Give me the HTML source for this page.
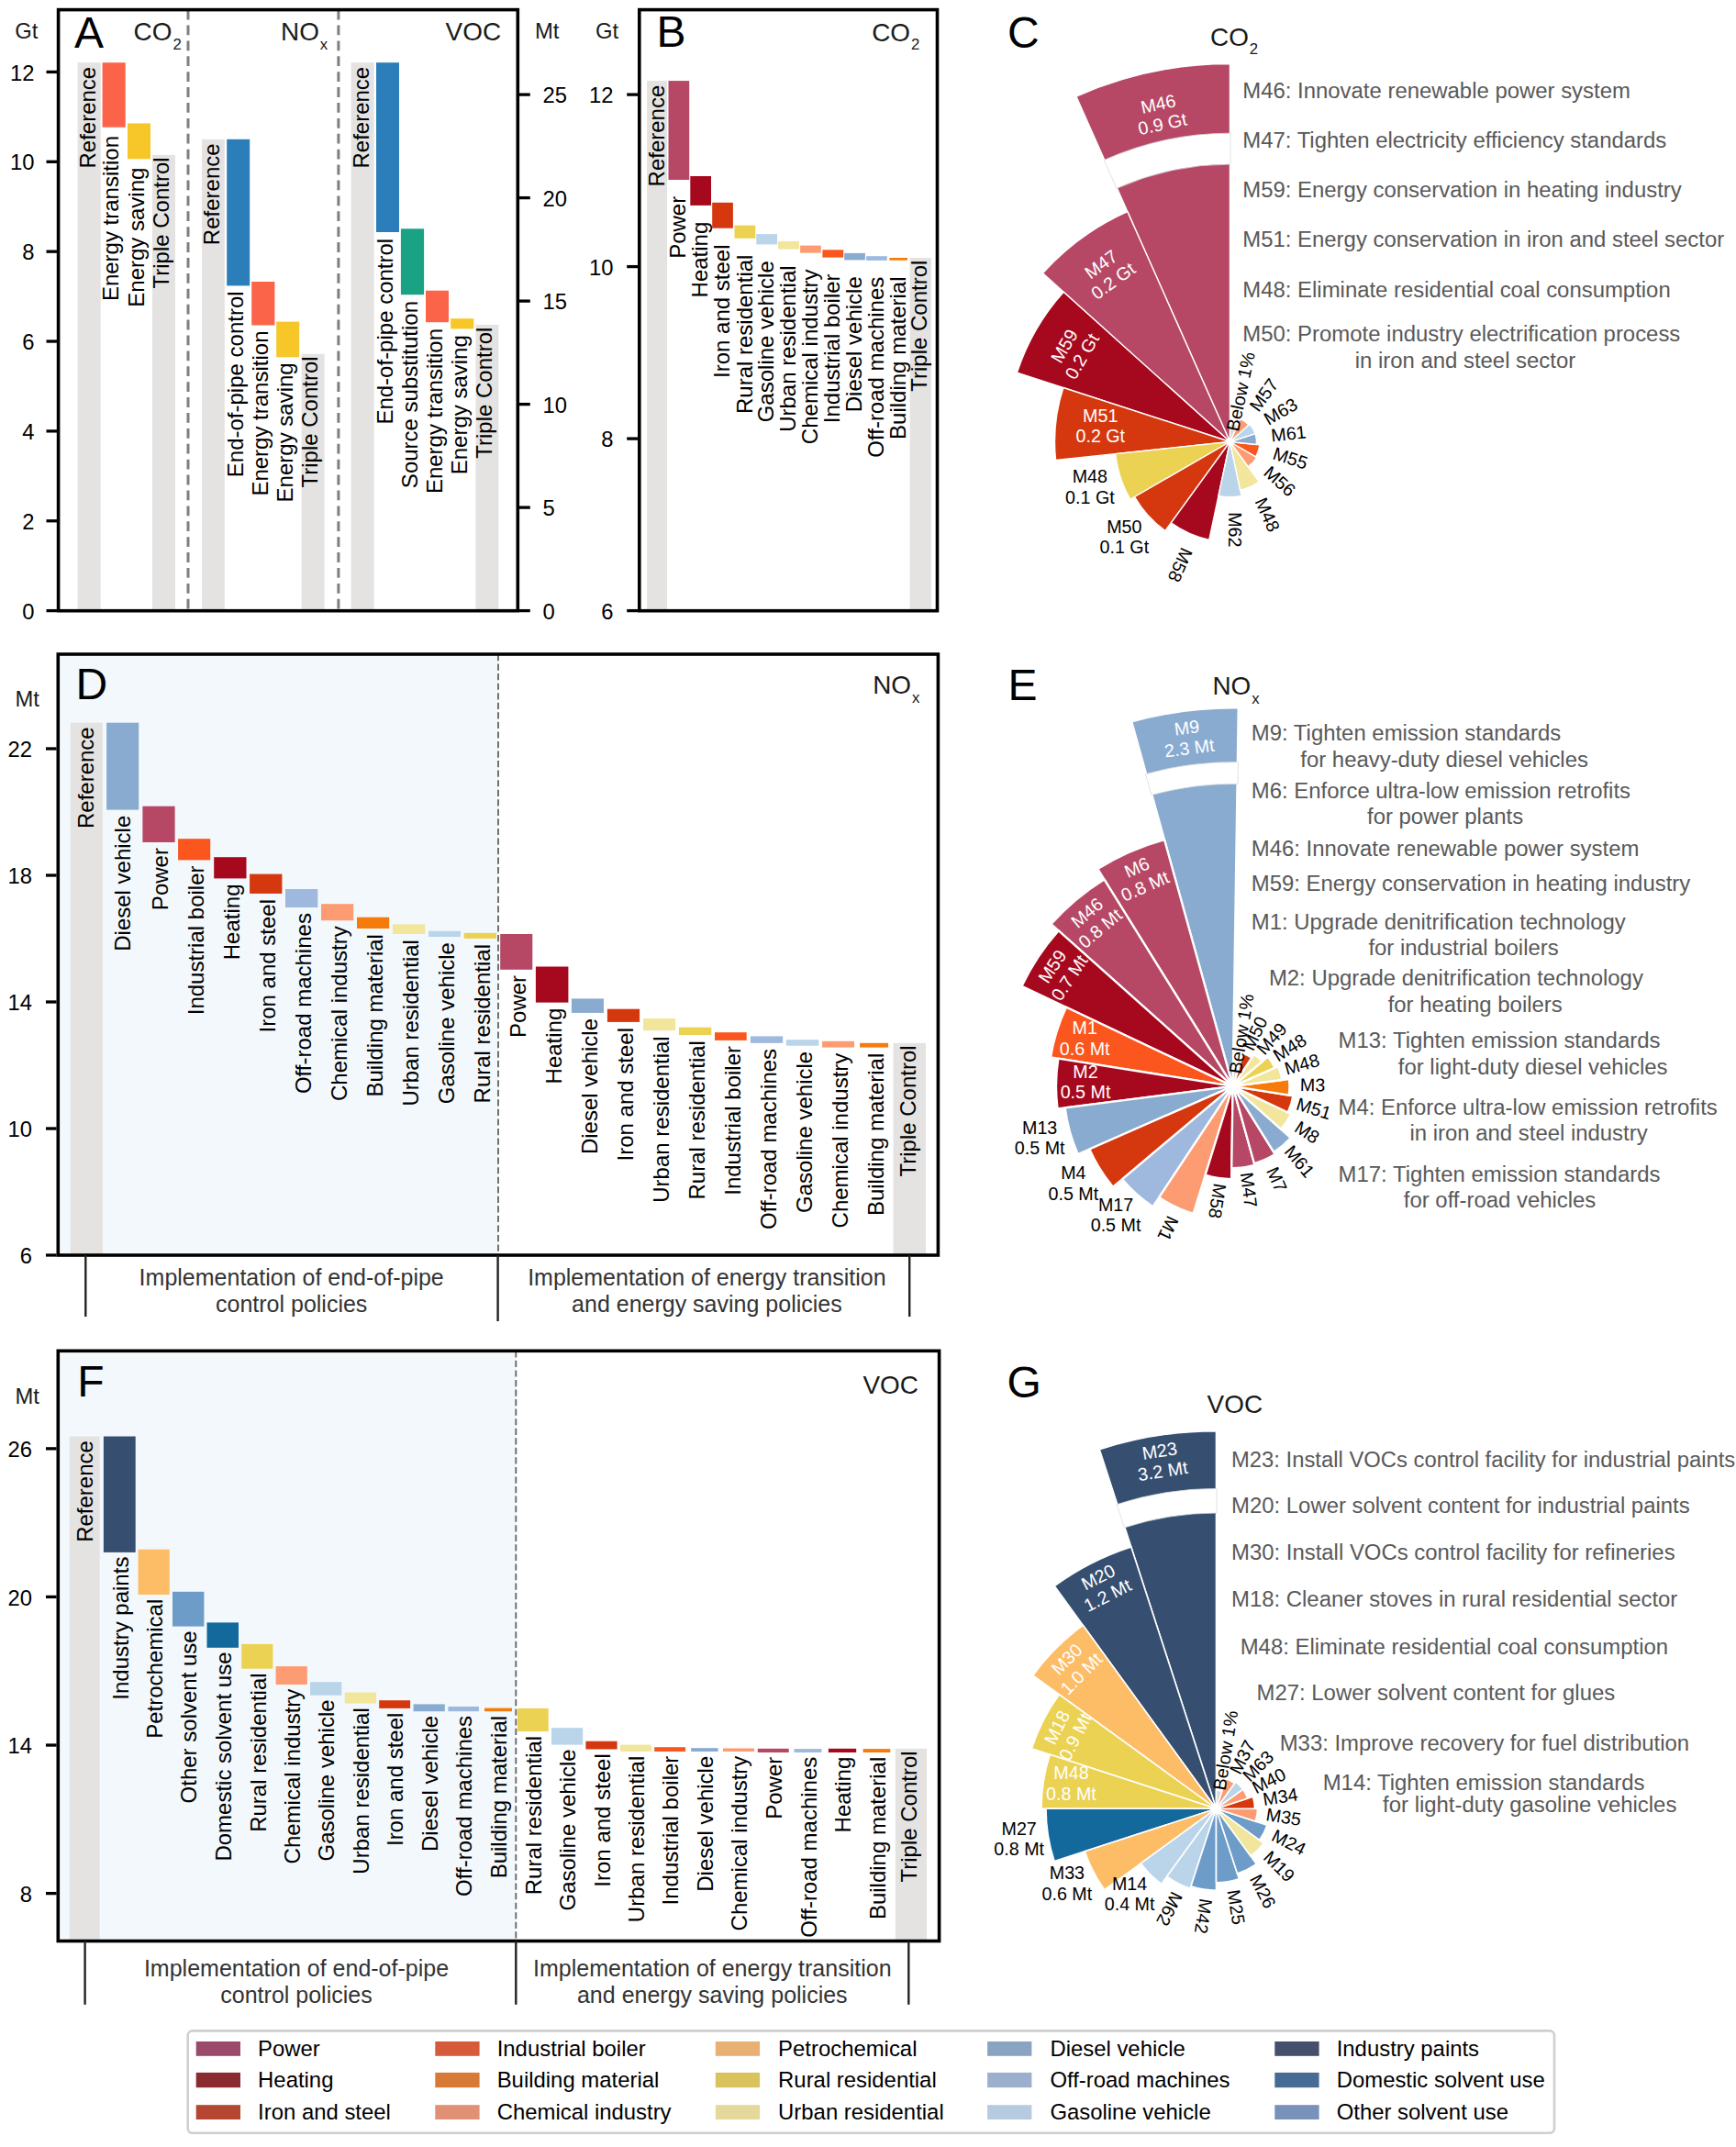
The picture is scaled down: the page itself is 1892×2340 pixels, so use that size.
<!DOCTYPE html>
<html><head><meta charset="utf-8"><title>Figure</title>
<style>html,body{margin:0;padding:0;background:#fff}svg{display:block}text{font-family:'Liberation Sans', Arial, sans-serif}</style>
</head><body>
<svg width="1892" height="2340" viewBox="0 0 1892 2340">
<rect width="1892" height="2340" fill="#fff"/>
<rect x="84.6" y="68.2" width="25.1" height="597.5" fill="#E4E3E2"/>
<rect x="111.6" y="68.2" width="25.1" height="70.5" fill="#FC644A"/>
<rect x="139" y="134.4" width="25" height="38.9" fill="#F7C729"/>
<rect x="166" y="168.8" width="25" height="496.9" fill="#E4E3E2"/>
<rect x="220" y="151.8" width="24.8" height="513.9" fill="#E4E3E2"/>
<rect x="247.2" y="151.8" width="25" height="159.6" fill="#2B7EB9"/>
<rect x="274.2" y="307" width="25.2" height="47.5" fill="#FC644A"/>
<rect x="301.2" y="350.6" width="25" height="38.7" fill="#F7C729"/>
<rect x="328.6" y="385.8" width="25" height="279.9" fill="#E4E3E2"/>
<rect x="382.6" y="68.2" width="25.1" height="597.5" fill="#E4E3E2"/>
<rect x="410" y="68.2" width="25" height="184.8" fill="#2B7EB9"/>
<rect x="436.9" y="249.3" width="25.2" height="71.9" fill="#1AA284"/>
<rect x="464" y="316.7" width="25" height="34.5" fill="#FC644A"/>
<rect x="491.2" y="347.2" width="25.1" height="11.2" fill="#F7C729"/>
<rect x="518.4" y="354" width="25" height="311.7" fill="#E4E3E2"/>
<text transform="translate(104.15 72.8) rotate(-90)" font-size="24" text-anchor="end">Reference</text>
<text transform="translate(129.35 148) rotate(-90)" font-size="24" text-anchor="end">Energy transition</text>
<text transform="translate(156.7 182.6) rotate(-90)" font-size="24" text-anchor="end">Energy saving</text>
<text transform="translate(183.7 171.4) rotate(-90)" font-size="24" text-anchor="end">Triple Control</text>
<text transform="translate(239.4 156.4) rotate(-90)" font-size="24" text-anchor="end">Reference</text>
<text transform="translate(264.9 317.4) rotate(-90)" font-size="24" text-anchor="end">End-of-pipe control</text>
<text transform="translate(292 360.5) rotate(-90)" font-size="24" text-anchor="end">Energy transition</text>
<text transform="translate(318.9 395.3) rotate(-90)" font-size="24" text-anchor="end">Energy saving</text>
<text transform="translate(346.3 388.4) rotate(-90)" font-size="24" text-anchor="end">Triple Control</text>
<text transform="translate(402.15 72.8) rotate(-90)" font-size="24" text-anchor="end">Reference</text>
<text transform="translate(427.7 259.8) rotate(-90)" font-size="24" text-anchor="end">End-of-pipe control</text>
<text transform="translate(454.7 328) rotate(-90)" font-size="24" text-anchor="end">Source substitution</text>
<text transform="translate(481.7 358) rotate(-90)" font-size="24" text-anchor="end">Energy transition</text>
<text transform="translate(508.95 365.2) rotate(-90)" font-size="24" text-anchor="end">Energy saving</text>
<text transform="translate(536.1 356.6) rotate(-90)" font-size="24" text-anchor="end">Triple Control</text>
<line x1="205" y1="10.6" x2="205" y2="665.7" stroke="#7f7f7f" stroke-width="3" stroke-dasharray="10.8 6.1"/>
<line x1="368.9" y1="10.6" x2="368.9" y2="665.7" stroke="#7f7f7f" stroke-width="3" stroke-dasharray="10.8 6.1"/>
<rect x="63.6" y="10.6" width="500.7" height="655.1" fill="none" stroke="#000" stroke-width="3.6"/>
<line x1="50.5" y1="665.6" x2="62" y2="665.6" stroke="#000" stroke-width="3.3"/>
<text x="37.5" y="674.7" font-size="23.8" text-anchor="end">0</text>
<line x1="50.5" y1="567.74" x2="62" y2="567.74" stroke="#000" stroke-width="3.3"/>
<text x="37.5" y="576.84" font-size="23.8" text-anchor="end">2</text>
<line x1="50.5" y1="469.88" x2="62" y2="469.88" stroke="#000" stroke-width="3.3"/>
<text x="37.5" y="478.98" font-size="23.8" text-anchor="end">4</text>
<line x1="50.5" y1="372.02" x2="62" y2="372.02" stroke="#000" stroke-width="3.3"/>
<text x="37.5" y="381.12" font-size="23.8" text-anchor="end">6</text>
<line x1="50.5" y1="274.16" x2="62" y2="274.16" stroke="#000" stroke-width="3.3"/>
<text x="37.5" y="283.26" font-size="23.8" text-anchor="end">8</text>
<line x1="50.5" y1="176.3" x2="62" y2="176.3" stroke="#000" stroke-width="3.3"/>
<text x="37.5" y="185.4" font-size="23.8" text-anchor="end">10</text>
<line x1="50.5" y1="78.44" x2="62" y2="78.44" stroke="#000" stroke-width="3.3"/>
<text x="37.5" y="87.54" font-size="23.8" text-anchor="end">12</text>
<line x1="566" y1="665.6" x2="577.8" y2="665.6" stroke="#000" stroke-width="3.3"/>
<text x="591.5" y="674.7" font-size="23.8">0</text>
<line x1="566" y1="553.1" x2="577.8" y2="553.1" stroke="#000" stroke-width="3.3"/>
<text x="591.5" y="562.2" font-size="23.8">5</text>
<line x1="566" y1="440.6" x2="577.8" y2="440.6" stroke="#000" stroke-width="3.3"/>
<text x="591.5" y="449.7" font-size="23.8">10</text>
<line x1="566" y1="328.1" x2="577.8" y2="328.1" stroke="#000" stroke-width="3.3"/>
<text x="591.5" y="337.2" font-size="23.8">15</text>
<line x1="566" y1="215.6" x2="577.8" y2="215.6" stroke="#000" stroke-width="3.3"/>
<text x="591.5" y="224.7" font-size="23.8">20</text>
<line x1="566" y1="103.1" x2="577.8" y2="103.1" stroke="#000" stroke-width="3.3"/>
<text x="591.5" y="112.2" font-size="23.8">25</text>
<text x="16.2" y="42" font-size="23.8" fill="#1a1a1a">Gt</text>
<text x="583" y="42" font-size="23.8" fill="#1a1a1a">Mt</text>
<text x="80.9" y="51.8" font-size="48">A</text>
<text x="145.6" y="43.9" font-size="27.9" fill="#1a1a1a">CO<tspan font-size="16.74" dy="9.6" dx="1">2</tspan></text>
<text x="306" y="43.9" font-size="27.9" fill="#1a1a1a">NO<tspan font-size="16.74" dy="9.6" dx="1">x</tspan></text>
<text x="485.6" y="43.9" font-size="27.9" fill="#1a1a1a">VOC</text>
<rect x="705.1" y="88.1" width="21.9" height="577.6" fill="#E4E3E2"/>
<rect x="728.5" y="88.1" width="22.7" height="107.9" fill="#B64866"/>
<rect x="752.3" y="192" width="22.7" height="31.9" fill="#A6081D"/>
<rect x="776.2" y="220.8" width="22.7" height="27.9" fill="#D5380F"/>
<rect x="800.5" y="245.6" width="22.8" height="14.2" fill="#ECD252"/>
<rect x="824.3" y="255.1" width="22.7" height="11.3" fill="#BAD4EA"/>
<rect x="848.1" y="262.9" width="22.8" height="8.7" fill="#F2E59C"/>
<rect x="872.1" y="267.6" width="22.7" height="8" fill="#FD9C72"/>
<rect x="896.4" y="272.3" width="22.8" height="8.3" fill="#FA561D"/>
<rect x="920.2" y="275.9" width="22.7" height="7.5" fill="#89ABD0"/>
<rect x="944.1" y="279.2" width="22.7" height="4.7" fill="#9EB9DD"/>
<rect x="969.4" y="281" width="19.6" height="2.7" fill="#F57C0C"/>
<rect x="991.6" y="281" width="23.4" height="384.7" fill="#E4E3E2"/>
<text transform="translate(724.35 92.7) rotate(-90)" font-size="24" text-anchor="end">Reference</text>
<text transform="translate(747.45 213.8) rotate(-90)" font-size="24" text-anchor="end">Power</text>
<text transform="translate(771.25 241.7) rotate(-90)" font-size="24" text-anchor="end">Heating</text>
<text transform="translate(795.15 266.5) rotate(-90)" font-size="24" text-anchor="end">Iron and steel</text>
<text transform="translate(819.5 277.6) rotate(-90)" font-size="24" text-anchor="end">Rural residential</text>
<text transform="translate(843.25 284.2) rotate(-90)" font-size="24" text-anchor="end">Gasoline vehicle</text>
<text transform="translate(867.1 289.4) rotate(-90)" font-size="24" text-anchor="end">Urban residential</text>
<text transform="translate(891.05 293.4) rotate(-90)" font-size="24" text-anchor="end">Chemical industry</text>
<text transform="translate(915.4 298.4) rotate(-90)" font-size="24" text-anchor="end">Industrial boiler</text>
<text transform="translate(939.15 301.2) rotate(-90)" font-size="24" text-anchor="end">Diesel vehicle</text>
<text transform="translate(963.05 301.7) rotate(-90)" font-size="24" text-anchor="end">Off-road machines</text>
<text transform="translate(986.8 301.5) rotate(-90)" font-size="24" text-anchor="end">Building material</text>
<text transform="translate(1009.5 283.6) rotate(-90)" font-size="24" text-anchor="end">Triple Control</text>
<rect x="696.8" y="10.6" width="324.7" height="655.1" fill="none" stroke="#000" stroke-width="3.6"/>
<line x1="683.2" y1="665.6" x2="695.2" y2="665.6" stroke="#000" stroke-width="3.3"/>
<text x="668.4" y="674.7" font-size="23.8" text-anchor="end">6</text>
<line x1="683.2" y1="478.1" x2="695.2" y2="478.1" stroke="#000" stroke-width="3.3"/>
<text x="668.4" y="487.2" font-size="23.8" text-anchor="end">8</text>
<line x1="683.2" y1="290.6" x2="695.2" y2="290.6" stroke="#000" stroke-width="3.3"/>
<text x="668.4" y="299.7" font-size="23.8" text-anchor="end">10</text>
<line x1="683.2" y1="103.1" x2="695.2" y2="103.1" stroke="#000" stroke-width="3.3"/>
<text x="668.4" y="112.2" font-size="23.8" text-anchor="end">12</text>
<text x="649" y="42" font-size="23.8" fill="#1a1a1a">Gt</text>
<text x="715.6" y="50.8" font-size="48">B</text>
<text x="950.2" y="44.6" font-size="27.9" fill="#1a1a1a">CO<tspan font-size="16.74" dy="9.6" dx="1">2</tspan></text>
<path d="M1340.5 481.5L1340.5 69.5A412 412 0 0 0 1172.92 105.12Z" fill="#B64866" stroke="#fff" stroke-width="1.4" stroke-linejoin="round"/>
<path d="M1340.5 481.5L1228.81 230.64A274.6 274.6 0 0 0 1136.43 297.76Z" fill="#B64866" stroke="#fff" stroke-width="1.4" stroke-linejoin="round"/>
<path d="M1340.5 481.5L1159.17 318.23A244 244 0 0 0 1108.44 406.1Z" fill="#A6081D" stroke="#fff" stroke-width="1.4" stroke-linejoin="round"/>
<path d="M1340.5 481.5L1158.85 422.48A191 191 0 0 0 1150.55 501.46Z" fill="#D5380F" stroke="#fff" stroke-width="1.4" stroke-linejoin="round"/>
<path d="M1340.5 481.5L1215.69 494.62A125.5 125.5 0 0 0 1231.81 544.25Z" fill="#ECD252" stroke="#fff" stroke-width="1.4" stroke-linejoin="round"/>
<path d="M1340.5 481.5L1236.58 541.5A120 120 0 0 0 1269.97 578.58Z" fill="#D5380F" stroke="#fff" stroke-width="1.4" stroke-linejoin="round"/>
<path d="M1340.5 481.5L1276.31 569.84A109.2 109.2 0 0 0 1317.8 588.31Z" fill="#A6081D" stroke="#fff" stroke-width="1.4" stroke-linejoin="round"/>
<path d="M1340.5 481.5L1327.96 540.48A60.3 60.3 0 0 0 1353.04 540.48Z" fill="#BAD4EA" stroke="#fff" stroke-width="1.4" stroke-linejoin="round"/>
<path d="M1340.5 481.5L1351.69 534.12A53.8 53.8 0 0 0 1372.12 525.03Z" fill="#F2E59C" stroke="#fff" stroke-width="1.4" stroke-linejoin="round"/>
<path d="M1340.5 481.5L1360.25 508.68A33.6 33.6 0 0 0 1369.6 498.3Z" fill="#FD9C72" stroke="#fff" stroke-width="1.4" stroke-linejoin="round"/>
<path d="M1340.5 481.5L1368.73 497.8A32.6 32.6 0 0 0 1372.92 484.91Z" fill="#FA561D" stroke="#fff" stroke-width="1.4" stroke-linejoin="round"/>
<path d="M1340.5 481.5L1369.34 484.53A29 29 0 0 0 1368.08 472.54Z" fill="#89ABD0" stroke="#fff" stroke-width="1.4" stroke-linejoin="round"/>
<path d="M1340.5 481.5L1367.99 472.57A28.9 28.9 0 0 0 1361.98 462.16Z" fill="#BAD4EA" stroke="#fff" stroke-width="1.4" stroke-linejoin="round"/>
<path d="M1340.5 481.5L1360.94 463.1A27.5 27.5 0 0 0 1351.69 456.38Z" fill="#FD9C72" stroke="#fff" stroke-width="1.4" stroke-linejoin="round"/>
<path d="M1340.5 481.5L1348.63 463.23A20 20 0 0 0 1340.5 461.5Z" fill="#D9D9D9" stroke="#fff" stroke-width="1.4" stroke-linejoin="round"/>
<path d="M1341.09 145.2A336.3 336.3 0 0 0 1203.18 174.51L1216.98 205.37A302.5 302.5 0 0 1 1341.03 179Z" fill="#fff" stroke="#d5dcdc" stroke-width="0.8" stroke-linejoin="round"/>
<circle cx="1340.5" cy="481.5" r="4" fill="#fff"/>
<g transform="translate(1265.03 126.43) rotate(-12)" fill="#fff" font-size="19.7" text-anchor="middle"><text y="-6.6">M46</text><text y="15.7">0.9 Gt</text></g>
<g transform="translate(1207.9 298.99) rotate(-36)" fill="#fff" font-size="19.7" text-anchor="middle"><text y="-6.6">M47</text><text y="15.7">0.2 Gt</text></g>
<g transform="translate(1171.63 384) rotate(-60)" fill="#fff" font-size="19.7" text-anchor="middle"><text y="-6.6">M59</text><text y="15.7">0.2 Gt</text></g>
<g transform="translate(1199.28 466.66) rotate(0)" fill="#fff" font-size="19.7" text-anchor="middle"><text y="-6.6">M51</text><text y="15.7">0.2 Gt</text></g>
<g transform="translate(1187.86 531.1)" font-size="19.7" text-anchor="middle"><text y="-4.7">M48</text><text y="17.6">0.1 Gt</text></g>
<g transform="translate(1225.31 585.22)" font-size="19.7" text-anchor="middle"><text y="-4.7">M50</text><text y="17.6">0.1 Gt</text></g>
<text transform="translate(1281.65 613.69) rotate(114)" font-size="19.7" text-anchor="middle" dy="1.84">M58</text>
<text transform="translate(1340.5 577.3) rotate(90)" font-size="19.7" text-anchor="middle" dy="1.6">M62</text>
<text transform="translate(1376.82 563.08) rotate(66)" font-size="19.7" text-anchor="middle" dy="1.84">M48</text>
<text transform="translate(1391.85 527.74) rotate(42)" font-size="19.7" text-anchor="middle" dy="2.53">M56</text>
<text transform="translate(1405.27 502.54) rotate(18)" font-size="19.7" text-anchor="middle" dy="3.53">M55</text>
<text transform="translate(1404.65 474.76) rotate(-6)" font-size="19.7" text-anchor="middle" dy="4.69">M61</text>
<text transform="translate(1396.27 449.3) rotate(-30)" font-size="19.7" text-anchor="middle" dy="5.8">M63</text>
<text transform="translate(1377.53 430.53) rotate(-54)" font-size="19.7" text-anchor="middle" dy="6.67">M57</text>
<text transform="translate(1352.14 426.72) rotate(-78)" font-size="19.7" text-anchor="middle" dy="6.9">Below 1%</text>
<text x="1098" y="52" font-size="48">C</text>
<text x="1319" y="49.8" font-size="27.9" fill="#1a1a1a">CO<tspan font-size="16.74" dy="9.6" dx="1">2</tspan></text>
<text x="1354.3" y="106.6" font-size="23.92" fill="#595959">M46: Innovate renewable power system</text>
<text x="1354.3" y="161.2" font-size="23.92" fill="#595959">M47: Tighten electricity efficiency standards</text>
<text x="1354.3" y="214.8" font-size="23.92" fill="#595959">M59: Energy conservation in heating industry</text>
<text x="1354.3" y="269.4" font-size="23.92" fill="#595959">M51: Energy conservation in iron and steel sector</text>
<text x="1354.3" y="324" font-size="23.92" fill="#595959">M48: Eliminate residential coal consumption</text>
<text x="1354.3" y="372.1" font-size="23.92" fill="#595959">M50: Promote industry electrification process</text>
<text x="1476.7" y="400.6" font-size="23.92" fill="#595959">in iron and steel sector</text>
<rect x="63.3" y="713" width="479.7" height="655" fill="#F2F8FC"/>
<rect x="76.8" y="787.7" width="35.1" height="580.3" fill="#E4E3E2"/>
<rect x="116.1" y="787.7" width="35.1" height="94.9" fill="#89ABD0"/>
<rect x="155.4" y="878.7" width="35.2" height="39.3" fill="#B64866"/>
<rect x="194.1" y="914.2" width="35.1" height="23.2" fill="#FA561D"/>
<rect x="233.2" y="934.2" width="35.3" height="23.2" fill="#A6081D"/>
<rect x="272.1" y="952.6" width="35.3" height="21.3" fill="#D5380F"/>
<rect x="311" y="969" width="35.3" height="20" fill="#9EB9DD"/>
<rect x="350" y="985.2" width="35.2" height="18" fill="#FD9C72"/>
<rect x="389" y="999.7" width="35.2" height="12.3" fill="#F57C0C"/>
<rect x="427.9" y="1007.4" width="35.3" height="10.6" fill="#F2E59C"/>
<rect x="467.1" y="1014.8" width="34.9" height="6.2" fill="#BAD4EA"/>
<rect x="505.7" y="1016.8" width="35.3" height="6.1" fill="#ECD252"/>
<rect x="545.2" y="1018" width="35.1" height="38.8" fill="#B64866"/>
<rect x="583.9" y="1053.5" width="35.5" height="39.1" fill="#A6081D"/>
<rect x="622.9" y="1088.4" width="35.1" height="15.5" fill="#89ABD0"/>
<rect x="661.9" y="1099.7" width="35.2" height="14.2" fill="#D5380F"/>
<rect x="701.1" y="1110" width="35" height="13.2" fill="#F2E59C"/>
<rect x="739.9" y="1119.7" width="35.4" height="8.3" fill="#ECD252"/>
<rect x="779" y="1125.2" width="34.7" height="8.7" fill="#FA561D"/>
<rect x="817.9" y="1129.4" width="35.3" height="7.4" fill="#9EB9DD"/>
<rect x="856.8" y="1133.2" width="35.5" height="6.5" fill="#BAD4EA"/>
<rect x="896.1" y="1134.8" width="34.9" height="6.8" fill="#FD9C72"/>
<rect x="937.1" y="1136.8" width="31" height="4.8" fill="#F57C0C"/>
<rect x="973.5" y="1136.8" width="35.5" height="231.2" fill="#E4E3E2"/>
<text transform="translate(101.65 792.3) rotate(-90)" font-size="24" text-anchor="end">Reference</text>
<text transform="translate(141.95 888.7) rotate(-90)" font-size="24" text-anchor="end">Diesel vehicle</text>
<text transform="translate(183.2 924.1) rotate(-90)" font-size="24" text-anchor="end">Power</text>
<text transform="translate(221.85 943.5) rotate(-90)" font-size="24" text-anchor="end">Industrial boiler</text>
<text transform="translate(261.05 963.5) rotate(-90)" font-size="24" text-anchor="end">Heating</text>
<text transform="translate(299.95 980) rotate(-90)" font-size="24" text-anchor="end">Iron and steel</text>
<text transform="translate(338.85 995.1) rotate(-90)" font-size="24" text-anchor="end">Off-road machines</text>
<text transform="translate(377.8 1009.3) rotate(-90)" font-size="24" text-anchor="end">Chemical industry</text>
<text transform="translate(416.8 1018.1) rotate(-90)" font-size="24" text-anchor="end">Building material</text>
<text transform="translate(455.75 1024.1) rotate(-90)" font-size="24" text-anchor="end">Urban residential</text>
<text transform="translate(494.75 1027.1) rotate(-90)" font-size="24" text-anchor="end">Gasoline vehicle</text>
<text transform="translate(533.55 1029) rotate(-90)" font-size="24" text-anchor="end">Rural residential</text>
<text transform="translate(572.95 1062.9) rotate(-90)" font-size="24" text-anchor="end">Power</text>
<text transform="translate(611.85 1098.7) rotate(-90)" font-size="24" text-anchor="end">Heating</text>
<text transform="translate(650.65 1110) rotate(-90)" font-size="24" text-anchor="end">Diesel vehicle</text>
<text transform="translate(689.7 1120) rotate(-90)" font-size="24" text-anchor="end">Iron and steel</text>
<text transform="translate(728.8 1129.3) rotate(-90)" font-size="24" text-anchor="end">Urban residential</text>
<text transform="translate(767.8 1134.1) rotate(-90)" font-size="24" text-anchor="end">Rural residential</text>
<text transform="translate(806.55 1140) rotate(-90)" font-size="24" text-anchor="end">Industrial boiler</text>
<text transform="translate(845.75 1142.9) rotate(-90)" font-size="24" text-anchor="end">Off-road machines</text>
<text transform="translate(884.75 1145.8) rotate(-90)" font-size="24" text-anchor="end">Gasoline vehicle</text>
<text transform="translate(923.75 1147.7) rotate(-90)" font-size="24" text-anchor="end">Chemical industry</text>
<text transform="translate(962.8 1147.7) rotate(-90)" font-size="24" text-anchor="end">Building material</text>
<text transform="translate(998.35 1139.4) rotate(-90)" font-size="24" text-anchor="end">Triple Control</text>
<line x1="543" y1="713" x2="543" y2="1368" stroke="#6a6a6a" stroke-width="1.9" stroke-dasharray="7.2 3.35"/>
<rect x="63.3" y="713" width="959.1" height="655" fill="none" stroke="#000" stroke-width="3.6"/>
<line x1="50" y1="1368" x2="61.6" y2="1368" stroke="#000" stroke-width="3.3"/>
<text x="35" y="1377.1" font-size="23.8" text-anchor="end">6</text>
<line x1="50" y1="1230" x2="61.6" y2="1230" stroke="#000" stroke-width="3.3"/>
<text x="35" y="1239.1" font-size="23.8" text-anchor="end">10</text>
<line x1="50" y1="1092" x2="61.6" y2="1092" stroke="#000" stroke-width="3.3"/>
<text x="35" y="1101.1" font-size="23.8" text-anchor="end">14</text>
<line x1="50" y1="954" x2="61.6" y2="954" stroke="#000" stroke-width="3.3"/>
<text x="35" y="963.1" font-size="23.8" text-anchor="end">18</text>
<line x1="50" y1="816" x2="61.6" y2="816" stroke="#000" stroke-width="3.3"/>
<text x="35" y="825.1" font-size="23.8" text-anchor="end">22</text>
<text x="16.5" y="770" font-size="23.8" fill="#1a1a1a">Mt</text>
<text x="82.6" y="762.2" font-size="48">D</text>
<text x="951.2" y="756.2" font-size="27.9" fill="#1a1a1a">NO<tspan font-size="16.74" dy="9.6" dx="1">x</tspan></text>
<line x1="93.3" y1="1368" x2="93.3" y2="1435" stroke="#222" stroke-width="2.4"/>
<line x1="542.6" y1="1368" x2="542.6" y2="1440" stroke="#222" stroke-width="2.4"/>
<line x1="991.2" y1="1368" x2="991.2" y2="1435" stroke="#222" stroke-width="2.4"/>
<text x="317.7" y="1400.8" font-size="25" text-anchor="middle" fill="#333">Implementation of end-of-pipe</text>
<text x="317.7" y="1429.8" font-size="25" text-anchor="middle" fill="#333">control policies</text>
<text x="770.4" y="1400.8" font-size="25" text-anchor="middle" fill="#333">Implementation of energy transition</text>
<text x="770.4" y="1429.8" font-size="25" text-anchor="middle" fill="#333">and energy saving policies</text>
<path d="M1343.6 1183.9L1349.72 771.45A412.5 412.5 0 0 0 1233.27 786.43Z" fill="#89ABD0" stroke="#fff" stroke-width="2.3" stroke-linejoin="round"/>
<path d="M1343.6 1183.9L1268.98 915.06A279 279 0 0 0 1196.26 946.98Z" fill="#B64866" stroke="#fff" stroke-width="2.3" stroke-linejoin="round"/>
<path d="M1343.6 1183.9L1203.39 958.44A265.5 265.5 0 0 0 1145.55 1007.08Z" fill="#B64866" stroke="#fff" stroke-width="2.3" stroke-linejoin="round"/>
<path d="M1343.6 1183.9L1153.68 1014.34A254.6 254.6 0 0 0 1113.6 1074.71Z" fill="#A6081D" stroke="#fff" stroke-width="2.3" stroke-linejoin="round"/>
<path d="M1343.6 1183.9L1162.02 1097.7A201 201 0 0 0 1145.09 1152.35Z" fill="#FA561D" stroke="#fff" stroke-width="2.3" stroke-linejoin="round"/>
<path d="M1343.6 1183.9L1153.39 1153.67A192.6 192.6 0 0 0 1152.57 1208.48Z" fill="#A6081D" stroke="#fff" stroke-width="2.3" stroke-linejoin="round"/>
<path d="M1343.6 1183.9L1160.71 1207.43A184.4 184.4 0 0 0 1174.75 1258.01Z" fill="#89ABD0" stroke="#fff" stroke-width="2.3" stroke-linejoin="round"/>
<path d="M1343.6 1183.9L1187.38 1252.46A170.6 170.6 0 0 0 1213.03 1293.69Z" fill="#D5380F" stroke="#fff" stroke-width="2.3" stroke-linejoin="round"/>
<path d="M1343.6 1183.9L1223.05 1285.26A157.5 157.5 0 0 0 1256.49 1315.12Z" fill="#9EB9DD" stroke="#fff" stroke-width="2.3" stroke-linejoin="round"/>
<path d="M1343.6 1183.9L1263.18 1305.04A145.4 145.4 0 0 0 1300.57 1322.79Z" fill="#FD9C72" stroke="#fff" stroke-width="2.3" stroke-linejoin="round"/>
<path d="M1343.6 1183.9L1313.62 1280.66A101.3 101.3 0 0 0 1342.1 1285.19Z" fill="#A6081D" stroke="#fff" stroke-width="2.3" stroke-linejoin="round"/>
<path d="M1343.6 1183.9L1342.28 1273.19A89.3 89.3 0 0 0 1367.48 1269.95Z" fill="#B64866" stroke="#fff" stroke-width="2.3" stroke-linejoin="round"/>
<path d="M1343.6 1183.9L1366.95 1268.02A87.3 87.3 0 0 0 1389.7 1258.03Z" fill="#B64866" stroke="#fff" stroke-width="2.3" stroke-linejoin="round"/>
<path d="M1343.6 1183.9L1388.22 1255.66A84.5 84.5 0 0 0 1406.63 1240.18Z" fill="#89ABD0" stroke="#fff" stroke-width="2.3" stroke-linejoin="round"/>
<path d="M1343.6 1183.9L1396.04 1230.72A70.3 70.3 0 0 0 1407.11 1214.05Z" fill="#F2E59C" stroke="#fff" stroke-width="2.3" stroke-linejoin="round"/>
<path d="M1343.6 1183.9L1403.67 1212.42A66.5 66.5 0 0 0 1409.28 1194.34Z" fill="#D5380F" stroke="#fff" stroke-width="2.3" stroke-linejoin="round"/>
<path d="M1343.6 1183.9L1404.73 1193.62A61.9 61.9 0 0 0 1404.99 1176Z" fill="#F57C0C" stroke="#fff" stroke-width="2.3" stroke-linejoin="round"/>
<path d="M1343.6 1183.9L1397.16 1177.01A54 54 0 0 0 1393.05 1162.2Z" fill="#F2E59C" stroke="#fff" stroke-width="2.3" stroke-linejoin="round"/>
<path d="M1343.6 1183.9L1389.38 1163.81A50 50 0 0 0 1381.87 1151.72Z" fill="#ECD252" stroke="#fff" stroke-width="2.3" stroke-linejoin="round"/>
<path d="M1343.6 1183.9L1375.59 1157A41.8 41.8 0 0 0 1366.72 1149.07Z" fill="#F2E59C" stroke="#fff" stroke-width="2.3" stroke-linejoin="round"/>
<path d="M1343.6 1183.9L1364.23 1152.82A37.3 37.3 0 0 0 1354.64 1148.27Z" fill="#D5380F" stroke="#fff" stroke-width="2.3" stroke-linejoin="round"/>
<path d="M1343.6 1183.9L1349.81 1163.84A21 21 0 0 0 1343.91 1162.9Z" fill="#D9D9D9" stroke="#fff" stroke-width="2.3" stroke-linejoin="round"/>
<path d="M1349.46 830.65A353.3 353.3 0 0 0 1248.51 843.64L1254.92 866.56A329.5 329.5 0 0 1 1349.06 854.45Z" fill="#fff" stroke="#d5dcdc" stroke-width="0.8" stroke-linejoin="round"/>
<circle cx="1343.6" cy="1183.9" r="4" fill="#fff"/>
<g transform="translate(1295.04 806.51) rotate(-7.33)" fill="#fff" font-size="19.7" text-anchor="middle"><text y="-6.6">M9</text><text y="15.7">2.3 Mt</text></g>
<g transform="translate(1244.34 957.72) rotate(-23.7)" fill="#fff" font-size="19.7" text-anchor="middle"><text y="-6.6">M6</text><text y="15.7">0.8 Mt</text></g>
<g transform="translate(1193.32 1005.18) rotate(-40.06)" fill="#fff" font-size="19.7" text-anchor="middle"><text y="-6.6">M46</text><text y="15.7">0.8 Mt</text></g>
<g transform="translate(1158.14 1060.79) rotate(-56.42)" fill="#fff" font-size="19.7" text-anchor="middle"><text y="-6.6">M59</text><text y="15.7">0.7 Mt</text></g>
<g transform="translate(1182.17 1133.89) rotate(0)" fill="#fff" font-size="19.7" text-anchor="middle"><text y="-6.6">M1</text><text y="15.7">0.6 Mt</text></g>
<g transform="translate(1183.02 1181.52) rotate(0)" fill="#fff" font-size="19.7" text-anchor="middle"><text y="-6.6">M2</text><text y="15.7">0.5 Mt</text></g>
<g transform="translate(1133.16 1242.31)" font-size="19.7" text-anchor="middle"><text y="-6.6">M13</text><text y="15.7">0.5 Mt</text></g>
<g transform="translate(1169.86 1291.95)" font-size="19.7" text-anchor="middle"><text y="-6.6">M4</text><text y="15.7">0.5 Mt</text></g>
<g transform="translate(1216.06 1326.75)" font-size="19.7" text-anchor="middle"><text y="-6.6">M17</text><text y="15.7">0.5 Mt</text></g>
<text transform="translate(1270.52 1337.83) rotate(115.4)" font-size="19.7" text-anchor="middle" dy="3.9">M1</text>
<text transform="translate(1323.77 1308.63) rotate(99.03)" font-size="19.7" text-anchor="middle" dy="3.9">M58</text>
<text transform="translate(1358.19 1297.27) rotate(82.67)" font-size="19.7" text-anchor="middle" dy="3.9">M47</text>
<text transform="translate(1388.73 1286.73) rotate(66.3)" font-size="19.7" text-anchor="middle" dy="3.9">M7</text>
<text transform="translate(1414.07 1267.71) rotate(49.94)" font-size="19.7" text-anchor="middle" dy="3.9">M61</text>
<text transform="translate(1423 1236.61) rotate(33.58)" font-size="19.7" text-anchor="middle" dy="3.9">M8</text>
<text transform="translate(1431 1210.98) rotate(17.21)" font-size="19.7" text-anchor="middle" dy="3.9">M51</text>
<text transform="translate(1430.49 1185.19) rotate(0.85)" font-size="19.7" text-anchor="middle" dy="3.9">M3</text>
<text transform="translate(1419.72 1162.77) rotate(-15.51)" font-size="19.7" text-anchor="middle" dy="3.9">M48</text>
<text transform="translate(1407.29 1144.29) rotate(-31.88)" font-size="19.7" text-anchor="middle" dy="3.9">M48</text>
<text transform="translate(1388.09 1134.07) rotate(-48.24)" font-size="19.7" text-anchor="middle" dy="3.9">M49</text>
<text transform="translate(1370.32 1127.62) rotate(-64.6)" font-size="19.7" text-anchor="middle" dy="3.9">M50</text>
<text transform="translate(1352.71 1126.62) rotate(-80.97)" font-size="19.7" text-anchor="middle" dy="6.9">Below 1%</text>
<text x="1098.6" y="763" font-size="48">E</text>
<text x="1321.4" y="757" font-size="27.9" fill="#1a1a1a">NO<tspan font-size="16.74" dy="9.6" dx="1">x</tspan></text>
<text x="1363.8" y="807" font-size="23.92" fill="#595959">M9: Tighten emission standards</text>
<text x="1417.3" y="835.7" font-size="23.92" fill="#595959">for heavy-duty diesel vehicles</text>
<text x="1363.8" y="869.7" font-size="23.92" fill="#595959">M6: Enforce ultra-low emission retrofits</text>
<text x="1490" y="898.3" font-size="23.92" fill="#595959">for power plants</text>
<text x="1363.8" y="933.3" font-size="23.92" fill="#595959">M46: Innovate renewable power system</text>
<text x="1363.8" y="971.4" font-size="23.92" fill="#595959">M59: Energy conservation in heating industry</text>
<text x="1363.8" y="1012.8" font-size="23.92" fill="#595959">M1: Upgrade denitrification technology</text>
<text x="1491.4" y="1041.4" font-size="23.92" fill="#595959">for industrial boilers</text>
<text x="1382.9" y="1074.1" font-size="23.92" fill="#595959">M2: Upgrade denitrification technology</text>
<text x="1512.7" y="1102.8" font-size="23.92" fill="#595959">for heating boilers</text>
<text x="1458.6" y="1141.6" font-size="23.92" fill="#595959">M13: Tighten emission standards</text>
<text x="1523.8" y="1170.8" font-size="23.92" fill="#595959">for light-duty diesel vehicles</text>
<text x="1458.6" y="1214.7" font-size="23.92" fill="#595959">M4: Enforce ultra-low emission retrofits</text>
<text x="1536.5" y="1243.3" font-size="23.92" fill="#595959">in iron and steel industry</text>
<text x="1458.6" y="1287.8" font-size="23.92" fill="#595959">M17: Tighten emission standards</text>
<text x="1529.8" y="1316.4" font-size="23.92" fill="#595959">for off-road vehicles</text>
<rect x="63.3" y="1472.3" width="499" height="643.2" fill="#F2F8FC"/>
<rect x="75.8" y="1565.5" width="32.9" height="550" fill="#E4E3E2"/>
<rect x="112.9" y="1565.5" width="34.8" height="126.4" fill="#364F70"/>
<rect x="150.6" y="1688.7" width="34.2" height="49.3" fill="#FDBD67"/>
<rect x="188" y="1734.8" width="34.4" height="37.8" fill="#6E9CC9"/>
<rect x="225.5" y="1768.4" width="34.5" height="27.4" fill="#13699B"/>
<rect x="263.2" y="1791.9" width="34.2" height="26.8" fill="#ECD252"/>
<rect x="300.6" y="1816.1" width="34.2" height="19.9" fill="#FD9C72"/>
<rect x="338" y="1833.2" width="34.3" height="14.5" fill="#BAD4EA"/>
<rect x="375.8" y="1844.5" width="34.2" height="12" fill="#F2E59C"/>
<rect x="413.2" y="1853.2" width="33.9" height="8.7" fill="#D5380F"/>
<rect x="450.6" y="1857.4" width="34.2" height="7.8" fill="#89ABD0"/>
<rect x="488.4" y="1860" width="33.5" height="5.2" fill="#9EB9DD"/>
<rect x="528" y="1861.6" width="30" height="3.6" fill="#F57C0C"/>
<rect x="563.9" y="1861.9" width="33.8" height="25.2" fill="#ECD252"/>
<rect x="601" y="1883.2" width="34.2" height="18.4" fill="#BAD4EA"/>
<rect x="638.4" y="1897.7" width="34.2" height="8.8" fill="#D5380F"/>
<rect x="675.8" y="1901.6" width="34.2" height="7.4" fill="#F2E59C"/>
<rect x="713.2" y="1904.2" width="33.9" height="4.8" fill="#FA561D"/>
<rect x="753.2" y="1905.2" width="29.4" height="3.8" fill="#89ABD0"/>
<rect x="788" y="1905.5" width="34" height="3.5" fill="#FD9C72"/>
<rect x="825.8" y="1905.8" width="33.9" height="4.2" fill="#B64866"/>
<rect x="865.5" y="1906.1" width="30" height="3.9" fill="#9EB9DD"/>
<rect x="902.9" y="1905.8" width="30.3" height="4.2" fill="#A6081D"/>
<rect x="940.6" y="1906.1" width="29.7" height="3.9" fill="#F57C0C"/>
<rect x="975.8" y="1905.8" width="34.2" height="209.7" fill="#E4E3E2"/>
<text transform="translate(100.95 1570.1) rotate(-90)" font-size="24" text-anchor="end">Reference</text>
<text transform="translate(139.5 1696.6) rotate(-90)" font-size="24" text-anchor="end">Industry paints</text>
<text transform="translate(176.9 1742.7) rotate(-90)" font-size="24" text-anchor="end">Petrochemical</text>
<text transform="translate(214.4 1777.3) rotate(-90)" font-size="24" text-anchor="end">Other solvent use</text>
<text transform="translate(251.95 1800.5) rotate(-90)" font-size="24" text-anchor="end">Domestic solvent use</text>
<text transform="translate(289.5 1823.4) rotate(-90)" font-size="24" text-anchor="end">Rural residential</text>
<text transform="translate(326.9 1840.7) rotate(-90)" font-size="24" text-anchor="end">Chemical industry</text>
<text transform="translate(364.35 1852.4) rotate(-90)" font-size="24" text-anchor="end">Gasoline vehicle</text>
<text transform="translate(402.1 1861.2) rotate(-90)" font-size="24" text-anchor="end">Urban residential</text>
<text transform="translate(439.35 1866.6) rotate(-90)" font-size="24" text-anchor="end">Iron and steel</text>
<text transform="translate(476.9 1869.9) rotate(-90)" font-size="24" text-anchor="end">Diesel vehicle</text>
<text transform="translate(514.35 1869.9) rotate(-90)" font-size="24" text-anchor="end">Off-road machines</text>
<text transform="translate(552.2 1869.9) rotate(-90)" font-size="24" text-anchor="end">Building material</text>
<text transform="translate(590 1891.8) rotate(-90)" font-size="24" text-anchor="end">Rural residential</text>
<text transform="translate(627.3 1906.3) rotate(-90)" font-size="24" text-anchor="end">Gasoline vehicle</text>
<text transform="translate(664.7 1911.2) rotate(-90)" font-size="24" text-anchor="end">Iron and steel</text>
<text transform="translate(702.1 1913.7) rotate(-90)" font-size="24" text-anchor="end">Urban residential</text>
<text transform="translate(739.35 1913.7) rotate(-90)" font-size="24" text-anchor="end">Industrial boiler</text>
<text transform="translate(777.1 1913.7) rotate(-90)" font-size="24" text-anchor="end">Diesel vehicle</text>
<text transform="translate(814.2 1913.7) rotate(-90)" font-size="24" text-anchor="end">Chemical industry</text>
<text transform="translate(851.95 1914.7) rotate(-90)" font-size="24" text-anchor="end">Power</text>
<text transform="translate(889.7 1914.7) rotate(-90)" font-size="24" text-anchor="end">Off-road machines</text>
<text transform="translate(927.25 1914.7) rotate(-90)" font-size="24" text-anchor="end">Heating</text>
<text transform="translate(964.65 1914.7) rotate(-90)" font-size="24" text-anchor="end">Building material</text>
<text transform="translate(998.7 1908.4) rotate(-90)" font-size="24" text-anchor="end">Triple Control</text>
<line x1="562.3" y1="1472.3" x2="562.3" y2="2115.5" stroke="#6a6a6a" stroke-width="1.9" stroke-dasharray="7.2 3.35"/>
<rect x="63.3" y="1472.3" width="960.3" height="643.2" fill="none" stroke="#000" stroke-width="3.6"/>
<line x1="50" y1="2063.6" x2="61.6" y2="2063.6" stroke="#000" stroke-width="3.3"/>
<text x="35" y="2072.7" font-size="23.8" text-anchor="end">8</text>
<line x1="50" y1="1902.02" x2="61.6" y2="1902.02" stroke="#000" stroke-width="3.3"/>
<text x="35" y="1911.12" font-size="23.8" text-anchor="end">14</text>
<line x1="50" y1="1740.44" x2="61.6" y2="1740.44" stroke="#000" stroke-width="3.3"/>
<text x="35" y="1749.54" font-size="23.8" text-anchor="end">20</text>
<line x1="50" y1="1578.86" x2="61.6" y2="1578.86" stroke="#000" stroke-width="3.3"/>
<text x="35" y="1587.96" font-size="23.8" text-anchor="end">26</text>
<text x="16.5" y="1530" font-size="23.8" fill="#1a1a1a">Mt</text>
<text x="84.2" y="1522.3" font-size="48">F</text>
<text x="940.4" y="1518.8" font-size="27.9" fill="#1a1a1a">VOC</text>
<line x1="92.6" y1="2115.5" x2="92.6" y2="2184.8" stroke="#222" stroke-width="2.4"/>
<line x1="562.3" y1="2115.5" x2="562.3" y2="2184.8" stroke="#222" stroke-width="2.4"/>
<line x1="990.3" y1="2115.5" x2="990.3" y2="2184.8" stroke="#222" stroke-width="2.4"/>
<text x="323" y="2154.3" font-size="25" text-anchor="middle" fill="#333">Implementation of end-of-pipe</text>
<text x="323" y="2182.7" font-size="25" text-anchor="middle" fill="#333">control policies</text>
<text x="776.3" y="2154.3" font-size="25" text-anchor="middle" fill="#333">Implementation of energy transition</text>
<text x="776.3" y="2182.7" font-size="25" text-anchor="middle" fill="#333">and energy saving policies</text>
<path d="M1325.5 1971.2L1325.5 1559.6A411.6 411.6 0 0 0 1198.31 1579.75Z" fill="#364F70" stroke="#fff" stroke-width="1.6" stroke-linejoin="round"/>
<path d="M1325.5 1971.2L1232.79 1685.88A300 300 0 0 0 1149.16 1728.49Z" fill="#364F70" stroke="#fff" stroke-width="1.6" stroke-linejoin="round"/>
<path d="M1325.5 1971.2L1180.32 1771.37A247 247 0 0 0 1125.67 1826.02Z" fill="#FDBD67" stroke="#fff" stroke-width="1.6" stroke-linejoin="round"/>
<path d="M1325.5 1971.2L1154.39 1846.88A211.5 211.5 0 0 0 1124.35 1905.84Z" fill="#ECD252" stroke="#fff" stroke-width="1.6" stroke-linejoin="round"/>
<path d="M1325.5 1971.2L1144.32 1912.33A190.5 190.5 0 0 0 1135 1971.2Z" fill="#ECD252" stroke="#fff" stroke-width="1.6" stroke-linejoin="round"/>
<path d="M1325.5 1971.2L1140 1971.2A185.5 185.5 0 0 0 1149.08 2028.52Z" fill="#13699B" stroke="#fff" stroke-width="1.6" stroke-linejoin="round"/>
<path d="M1325.5 1971.2L1182.37 2017.71A150.5 150.5 0 0 0 1203.74 2059.66Z" fill="#FDBD67" stroke="#fff" stroke-width="1.6" stroke-linejoin="round"/>
<path d="M1325.5 1971.2L1243.38 2030.86A101.5 101.5 0 0 0 1265.84 2053.32Z" fill="#BAD4EA" stroke="#fff" stroke-width="1.6" stroke-linejoin="round"/>
<path d="M1325.5 1971.2L1271.72 2045.23A91.5 91.5 0 0 0 1297.22 2058.22Z" fill="#BAD4EA" stroke="#fff" stroke-width="1.6" stroke-linejoin="round"/>
<path d="M1325.5 1971.2L1298 2055.84A89 89 0 0 0 1325.5 2060.2Z" fill="#6E9CC9" stroke="#fff" stroke-width="1.6" stroke-linejoin="round"/>
<path d="M1325.5 1971.2L1325.5 2051.7A80.5 80.5 0 0 0 1350.38 2047.76Z" fill="#6E9CC9" stroke="#fff" stroke-width="1.6" stroke-linejoin="round"/>
<path d="M1325.5 1971.2L1348.52 2042.05A74.5 74.5 0 0 0 1369.29 2031.47Z" fill="#6E9CC9" stroke="#fff" stroke-width="1.6" stroke-linejoin="round"/>
<path d="M1325.5 1971.2L1363.12 2022.98A64 64 0 0 0 1377.28 2008.82Z" fill="#F2E59C" stroke="#fff" stroke-width="1.6" stroke-linejoin="round"/>
<path d="M1325.5 1971.2L1372.67 2005.47A58.3 58.3 0 0 0 1380.95 1989.22Z" fill="#6E9CC9" stroke="#fff" stroke-width="1.6" stroke-linejoin="round"/>
<path d="M1325.5 1971.2L1368.3 1985.11A45 45 0 0 0 1370.5 1971.2Z" fill="#FD9C72" stroke="#fff" stroke-width="1.6" stroke-linejoin="round"/>
<path d="M1325.5 1971.2L1367.5 1971.2A42 42 0 0 0 1365.44 1958.22Z" fill="#D5380F" stroke="#fff" stroke-width="1.6" stroke-linejoin="round"/>
<path d="M1325.5 1971.2L1359.74 1960.08A36 36 0 0 0 1354.62 1950.04Z" fill="#FD9C72" stroke="#fff" stroke-width="1.6" stroke-linejoin="round"/>
<path d="M1325.5 1971.2L1354.62 1950.04A36 36 0 0 0 1346.66 1942.08Z" fill="#BAD4EA" stroke="#fff" stroke-width="1.6" stroke-linejoin="round"/>
<path d="M1325.5 1971.2L1345.48 1943.69A34 34 0 0 0 1336.01 1938.86Z" fill="#FD9C72" stroke="#fff" stroke-width="1.6" stroke-linejoin="round"/>
<path d="M1325.5 1971.2L1331.68 1952.18A20 20 0 0 0 1325.5 1951.2Z" fill="#D9D9D9" stroke="#fff" stroke-width="1.6" stroke-linejoin="round"/>
<path d="M1326.11 1622.4A348.8 348.8 0 0 0 1217.14 1639.66L1225.4 1664.94A322.2 322.2 0 0 1 1326.06 1649Z" fill="#fff" stroke="#d5dcdc" stroke-width="0.8" stroke-linejoin="round"/>
<circle cx="1325.5" cy="1971.2" r="4" fill="#fff"/>
<g transform="translate(1265.88 1594.79) rotate(-9)" fill="#fff" font-size="19.7" text-anchor="middle"><text y="-6.9">M23</text><text y="15.4">3.2 Mt</text></g>
<g transform="translate(1203.15 1731.07) rotate(-27)" fill="#fff" font-size="19.7" text-anchor="middle"><text y="-6.9">M20</text><text y="15.4">1.2 Mt</text></g>
<g transform="translate(1172.41 1818.11) rotate(-45)" fill="#fff" font-size="19.7" text-anchor="middle"><text y="-6.9">M30</text><text y="15.4">1.0 Mt</text></g>
<g transform="translate(1164.23 1889.03) rotate(-63)" fill="#fff" font-size="19.7" text-anchor="middle"><text y="-6.9">M18</text><text y="15.4">0.9 Mt</text></g>
<g transform="translate(1167.47 1946.17) rotate(0)" fill="#fff" font-size="19.7" text-anchor="middle"><text y="-6.9">M48</text><text y="15.4">0.8 Mt</text></g>
<g transform="translate(1110.68 2005.22)" font-size="19.7" text-anchor="middle"><text y="-5.6">M27</text><text y="16.7">0.8 Mt</text></g>
<g transform="translate(1162.89 2054.05)" font-size="19.7" text-anchor="middle"><text y="-5.6">M33</text><text y="16.7">0.6 Mt</text></g>
<g transform="translate(1231.1 2065.6)" font-size="19.7" text-anchor="middle"><text y="-5.6">M14</text><text y="16.7">0.4 Mt</text></g>
<text transform="translate(1270.79 2078.57) rotate(117)" font-size="19.7" text-anchor="middle" dy="2.47">M62</text>
<text transform="translate(1307.04 2087.75) rotate(99)" font-size="19.7" text-anchor="middle" dy="2.23">M42</text>
<text transform="translate(1342.63 2079.35) rotate(81)" font-size="19.7" text-anchor="middle" dy="2.23">M25</text>
<text transform="translate(1372.49 2063.42) rotate(63)" font-size="19.7" text-anchor="middle" dy="2.47">M26</text>
<text transform="translate(1391.26 2036.96) rotate(45)" font-size="19.7" text-anchor="middle" dy="2.93">M19</text>
<text transform="translate(1403.28 2010.83) rotate(27)" font-size="19.7" text-anchor="middle" dy="3.57">M24</text>
<text transform="translate(1398.59 1982.78) rotate(9)" font-size="19.7" text-anchor="middle" dy="4.31">M35</text>
<text transform="translate(1395.63 1960.09) rotate(-9)" font-size="19.7" text-anchor="middle" dy="5.09">M34</text>
<text transform="translate(1383.42 1941.69) rotate(-27)" font-size="19.7" text-anchor="middle" dy="5.83">M40</text>
<text transform="translate(1371.46 1925.24) rotate(-45)" font-size="19.7" text-anchor="middle" dy="6.47">M63</text>
<text transform="translate(1354.1 1915.07) rotate(-63)" font-size="19.7" text-anchor="middle" dy="6.93">M37</text>
<text transform="translate(1335.56 1907.69) rotate(-81)" font-size="19.7" text-anchor="middle" dy="6.9">Below 1%</text>
<text x="1097.6" y="1523" font-size="48">G</text>
<text x="1315.6" y="1539.8" font-size="27.9" fill="#1a1a1a">VOC</text>
<text x="1342" y="1598.6" font-size="23.82" fill="#595959">M23: Install VOCs control facility for industrial paints</text>
<text x="1342" y="1648.7" font-size="23.92" fill="#595959">M20: Lower solvent content for industrial paints</text>
<text x="1342" y="1699.9" font-size="23.92" fill="#595959">M30: Install VOCs control facility for refineries</text>
<text x="1342" y="1751.4" font-size="23.92" fill="#595959">M18: Cleaner stoves in rural residential sector</text>
<text x="1351.7" y="1802.5" font-size="23.92" fill="#595959">M48: Eliminate residential coal consumption</text>
<text x="1369.5" y="1853.3" font-size="23.92" fill="#595959">M27: Lower solvent content for glues</text>
<text x="1394.7" y="1907.7" font-size="23.92" fill="#595959">M33: Improve recovery for fuel distribution</text>
<text x="1441.7" y="1950.8" font-size="23.92" fill="#595959">M14: Tighten emission standards</text>
<text x="1507.1" y="1974.7" font-size="23.92" fill="#595959">for light-duty gasoline vehicles</text>
<rect x="204.7" y="2213.4" width="1489.3" height="111.4" rx="5" fill="#fff" stroke="#cfcfcf" stroke-width="2.6"/>
<rect x="213.7" y="2225" width="48.3" height="15.8" fill="#9B4A6C"/>
<text x="281.1" y="2240.8" font-size="23.9">Power</text>
<rect x="213.7" y="2258.9" width="48.3" height="16.3" fill="#8A2B32"/>
<text x="281.1" y="2275.2" font-size="23.9">Heating</text>
<rect x="213.7" y="2294.2" width="48.3" height="15.8" fill="#B54632"/>
<text x="281.1" y="2310" font-size="23.9">Iron and steel</text>
<rect x="474.3" y="2225" width="48.3" height="15.8" fill="#D65B3B"/>
<text x="541.7" y="2240.8" font-size="23.9">Industrial boiler</text>
<rect x="474.3" y="2258.9" width="48.3" height="16.3" fill="#D77A36"/>
<text x="541.7" y="2275.2" font-size="23.9">Building material</text>
<rect x="474.3" y="2294.2" width="48.3" height="15.8" fill="#E09074"/>
<text x="541.7" y="2310" font-size="23.9">Chemical industry</text>
<rect x="779.8" y="2225" width="48.3" height="15.8" fill="#E8B072"/>
<text x="848.1" y="2240.8" font-size="23.9">Petrochemical</text>
<rect x="779.8" y="2258.9" width="48.3" height="16.3" fill="#DAC35E"/>
<text x="848.1" y="2275.2" font-size="23.9">Rural residential</text>
<rect x="779.8" y="2294.2" width="48.3" height="15.8" fill="#E4D99B"/>
<text x="848.1" y="2310" font-size="23.9">Urban residential</text>
<rect x="1076.1" y="2225" width="48.3" height="15.8" fill="#8AA3C1"/>
<text x="1144.4" y="2240.8" font-size="23.9">Diesel vehicle</text>
<rect x="1076.1" y="2258.9" width="48.3" height="16.3" fill="#9CB0CE"/>
<text x="1144.4" y="2275.2" font-size="23.9">Off-road machines</text>
<rect x="1076.1" y="2294.2" width="48.3" height="15.8" fill="#B6CBE0"/>
<text x="1144.4" y="2310" font-size="23.9">Gasoline vehicle</text>
<rect x="1389.3" y="2225" width="48.3" height="15.8" fill="#464F6C"/>
<text x="1456.7" y="2240.8" font-size="23.9">Industry paints</text>
<rect x="1389.3" y="2258.9" width="48.3" height="16.3" fill="#466C96"/>
<text x="1456.7" y="2275.2" font-size="23.9">Domestic solvent use</text>
<rect x="1389.3" y="2294.2" width="48.3" height="15.8" fill="#7992B9"/>
<text x="1456.7" y="2310" font-size="23.9">Other solvent use</text>
</svg>
</body></html>
